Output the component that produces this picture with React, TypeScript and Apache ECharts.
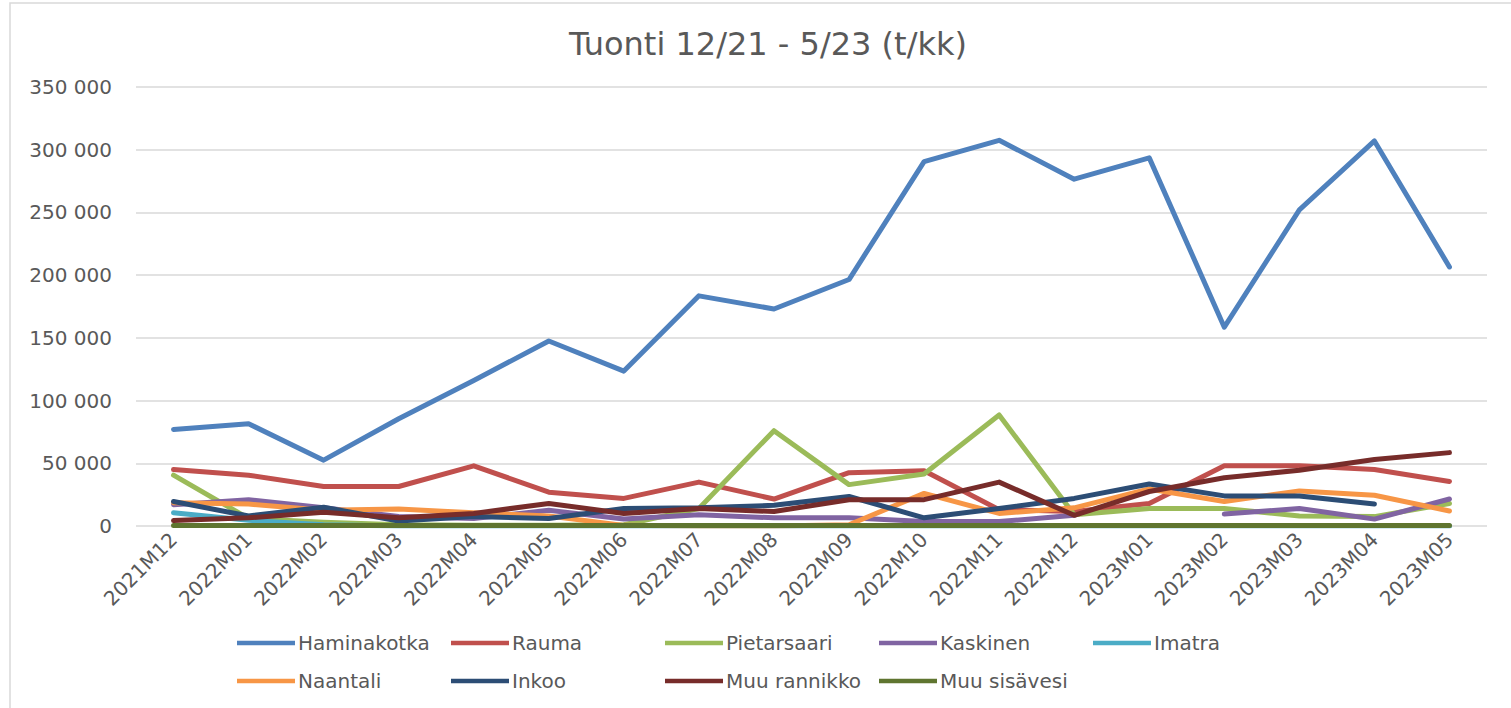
import React, { useEffect, useRef } from "react";
import * as echarts from "echarts";

const categories = [
  "2021M12", "2022M01", "2022M02", "2022M03", "2022M04", "2022M05", "2022M06",
  "2022M07", "2022M08", "2022M09", "2022M10", "2022M11", "2022M12", "2023M01",
  "2023M02", "2023M03", "2023M04", "2023M05",
];

const haminakotka = [77000, 81500, 52500, 85500, 116000, 147500, 123500, 183500, 173000, 196500, 290500, 307500, 276500, 293500, 158500, 252000, 307000, 206500];
const rauma = [45000, 40500, 31500, 31500, 48000, 27000, 22000, 35000, 21500, 42500, 44000, 13000, 11500, 18000, 48000, 48000, 45000, 35500];
const pietarsaari = [40500, 6000, 3000, 1000, 500, 500, 1000, 14000, 76000, 33000, 41500, 88500, 9000, 14000, 14000, 8000, 7500, 18000];
const kaskinen = [17000, 21000, 14500, 7500, 6000, 12500, 5500, 9000, 6500, 6500, 3500, 3500, 8500, null, 9500, 14000, 5500, 21500];
const imatra = [10500, 4500, 1000, 0, 0, 0, 0, 0, 0, 0, 0, 0, 0, 0, 0, 0, 0, 0];
const naantali = [18500, 17500, 12500, 13500, 10500, 8000, 500, 0, 0, 1000, 26000, 10000, 14500, 29500, 19500, 28000, 24500, 12000];
const inkoo = [19500, 8000, 15000, 4000, 7500, 6000, 14000, 14500, 16500, 23500, 6500, 14000, 22000, 33500, 24000, 24000, 17500, null];
const muuRannikko = [4300, 6500, 11000, 6500, 10000, 18000, 10000, 14000, 11500, 21000, 21000, 35000, 8500, 27500, 38500, 44500, 53000, 58500];
const muuSisavesi = [300, 300, 300, 300, 300, 300, 300, 300, 300, 300, 300, 300, 300, 300, 300, 300, 300, 300];

const seriesNames = ["Haminakotka", "Rauma", "Pietarsaari", "Kaskinen", "Imatra", "Naantali", "Inkoo", "Muu rannikko", "Muu sisävesi"];
const seriesData = [haminakotka, rauma, pietarsaari, kaskinen, imatra, naantali, inkoo, muuRannikko, muuSisavesi];
const colors = ["#4F81BD", "#C0504D", "#9BBB59", "#8064A2", "#4BACC6", "#F79646", "#2C4D75", "#772C2A", "#5F7530"];

const yMax = 350000;
const yInterval = 50000;

const FONT = "'DejaVu Sans', sans-serif";
const TEXT = "#595959";

export default function App() {
  const ref = useRef<HTMLDivElement>(null);
  useEffect(() => {
    if (!ref.current) return;
    const chart = echarts.init(ref.current, null, { renderer: "svg" });
    const colLeft = [237, 451, 665, 879, 1093];
    const rowTop = [633, 671];
    const legends = seriesNames.map((name, i) => ({
      data: [name],
      left: colLeft[i % 5],
      top: rowTop[Math.floor(i / 5)],
      icon: "rect",
      itemWidth: 58,
      itemHeight: 4.5,
      itemGap: 0,
      padding: 0,
      selectedMode: false,
      textStyle: { color: TEXT, fontSize: 20, fontFamily: FONT, padding: [0, 0, 0, -2] },
    }));
    chart.setOption({
      animation: false,
      backgroundColor: "#ffffff",
      color: colors,
      title: {
        text: "Tuonti 12/21 - 5/23 (t/kk)",
        left: 763,
        textAlign: "center",
        top: 23,
        textStyle: { color: TEXT, fontSize: 32, fontWeight: "normal", fontFamily: FONT },
      },
      graphic: [
        {
          type: "rect",
          shape: { x: 10, y: 3, width: 1600, height: 800 },
          style: { fill: "none", stroke: "#d9d9d9", lineWidth: 1.5 },
          silent: true,
        },
      ],
      legend: legends,
      grid: { left: 136, right: 24, top: 87, bottom: 182, containLabel: false },
      xAxis: {
        type: "category",
        data: categories,
        boundaryGap: true,
        axisLine: { show: false },
        axisTick: { show: false },
        axisLabel: { rotate: 45, color: TEXT, fontSize: 20, fontFamily: FONT, margin: 10, interval: 0 },
      },
      yAxis: {
        type: "value",
        min: 0,
        max: yMax,
        interval: yInterval,
        axisLine: { show: false },
        axisTick: { show: false },
        splitLine: { lineStyle: { color: "#d9d9d9", width: 1.5 } },
        axisLabel: {
          color: TEXT,
          fontSize: 20,
          fontFamily: FONT,
          margin: 24,
          formatter: (v: number) => String(v).replace(/\B(?=(\d{3})+(?!\d))/g, " "),
        },
      },
      series: seriesNames.map((name, i) => ({
        name,
        type: "line",
        data: seriesData[i],
        symbol: "none",
        connectNulls: false,
        lineStyle: { width: 5, color: colors[i], cap: "round", join: "round" },
        itemStyle: { color: colors[i] },
        z: 2 + i,
      })),
    });
    return () => chart.dispose();
  }, []);
  return (
    <div
      ref={ref}
      style={{ position: "fixed", left: 0, top: 0, width: 1511, height: 708 }}
    />
  );
}
